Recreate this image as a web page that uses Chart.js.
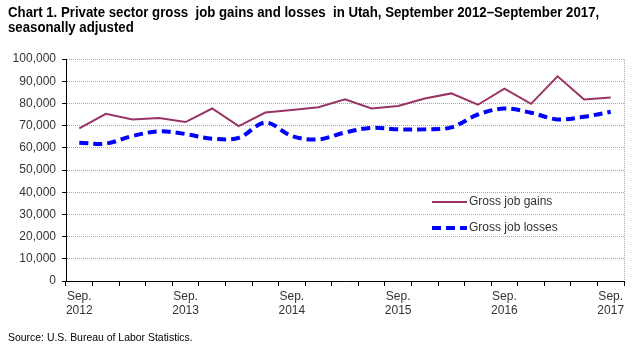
<!DOCTYPE html>
<html lang="en">
<head>
  <meta charset="UTF-8" />
  <title>Utah gross job gains and losses</title>
  <script src="https://cdn.jsdelivr.net/npm/chart.js"></script>
  <style>
    * {
      margin: 0;
      padding: 0;
      box-sizing: border-box;
    }
    body {
      width: 640px;
      height: 348px;
      background: #fff;
      position: relative;
      overflow: hidden;
    }
    .title {
      position: absolute;
      left: 8px;
      top: 5px;
      font-family: 'Liberation Sans', Arial, sans-serif;
      font-weight: bold;
      font-size: 14px;
      line-height: 15px;
      color: #000;
      white-space: nowrap;
      transform: scaleX(0.945);
      transform-origin: left top;
    }
    .source {
      position: absolute;
      left: 8px;
      top: 331px;
      font-family: 'Liberation Sans', Arial, sans-serif;
      font-size: 11px;
      color: #000;
      white-space: nowrap;
      transform: scaleX(0.95);
      transform-origin: left top;
    }
    #wrap {
      position: absolute;
      left: 0;
      top: 0;
      width: 640px;
      height: 348px;
    }
  </style>
</head>
<body>
  <div id="wrap"><canvas id="chart" width="640" height="348"></canvas></div>
  <div class="title">Chart 1. Private sector gross &nbsp;job gains and losses &nbsp;in Utah, September 2012–September 2017,<br />seasonally adjusted</div>
  <div class="source">Source: U.S. Bureau of Labor Statistics.</div>

  <script>
    // quarters, Sep 2012 .. Sep 2017
    const quarters = [
      'Sep. 2012', 'Dec. 2012', 'Mar. 2013', 'Jun. 2013',
      'Sep. 2013', 'Dec. 2013', 'Mar. 2014', 'Jun. 2014',
      'Sep. 2014', 'Dec. 2014', 'Mar. 2015', 'Jun. 2015',
      'Sep. 2015', 'Dec. 2015', 'Mar. 2016', 'Jun. 2016',
      'Sep. 2016', 'Dec. 2016', 'Mar. 2017', 'Jun. 2017',
      'Sep. 2017'
    ];
    const gains = [
      68700, 75300, 72800, 73400, 71600, 77700, 69800, 75900,
      77000, 78300, 81800, 77700, 78800, 82200, 84500, 79400,
      86600, 79800, 92200, 81800, 82700
    ];
    const losses = [
      62300, 61900, 65300, 67400, 66200, 64100, 64500, 71400,
      65300, 63800, 66900, 69000, 68300, 68300, 69200, 75000,
      77700, 75800, 72800, 74000, 76200
    ];
    const yTicks = [0, 10000, 20000, 30000, 40000, 50000, 60000, 70000, 80000, 90000, 100000];

    const labelFont = { family: "'Liberation Sans', Arial, sans-serif", size: 12 };

    // legend drawn inside the plot, plus the grey right border
    const extras = {
      id: 'extras',
      afterDraw(chart) {
        const ctx = chart.ctx;
        const a = chart.chartArea;
        ctx.save();
        ctx.strokeStyle = '#b0b0b0';
        ctx.lineWidth = 1;
        ctx.setLineDash([1, 1]);
        ctx.beginPath();
        ctx.moveTo(a.right + 0.5, a.top);
        ctx.lineTo(a.right + 0.5, a.bottom);
        ctx.stroke();

        const items = chart.data.datasets;
        const x0 = a.left + 366;
        const ys = [a.top + 143, a.top + 169];
        items.forEach((ds, i) => {
          ctx.setLineDash(ds.borderDash || []);
          ctx.strokeStyle = ds.borderColor;
          ctx.lineWidth = ds.borderWidth;
          ctx.beginPath();
          ctx.moveTo(x0, ys[i]);
          ctx.lineTo(x0 + 35, ys[i]);
          ctx.stroke();
          ctx.setLineDash([]);
          ctx.fillStyle = '#333';
          ctx.font = "12px 'Liberation Sans', Arial, sans-serif";
          ctx.textBaseline = 'middle';
          ctx.fillText(ds.label, x0 + 37, ys[i]);
        });
        ctx.restore();
      }
    };

    new Chart(document.getElementById('chart'), {
      type: 'line',
      data: {
        labels: quarters,
        datasets: [
          {
            label: 'Gross job gains',
            data: gains,
            borderColor: '#993366',
            borderWidth: 2,
            pointRadius: 0,
            tension: 0
          },
          {
            label: 'Gross job losses',
            data: losses,
            borderColor: '#0000ff',
            borderWidth: 4,
            borderDash: [9, 5],
            pointRadius: 0,
            tension: 0.35
          }
        ]
      },
      options: {
        responsive: false,
        animation: false,
        layout: { padding: { left: 0, right: 16, top: 59, bottom: 27 } },
        plugins: {
          legend: { display: false },
          tooltip: { enabled: false }
        },
        scales: {
          x: {
            offset: true,
            afterFit: s => { s.height = 40; },
            grid: {
              offset: true,
              drawOnChartArea: false,
              tickLength: 5,
              tickColor: '#000'
            },
            border: { color: '#000', width: 1 },
            ticks: {
              autoSkip: false,
              maxRotation: 0,
              padding: 3,
              color: '#333',
              font: labelFont,
              callback: function (v, i) {
                if (i % 4 !== 0) return '';
                return this.getLabelForValue(v).split(' ');
              }
            }
          },
          y: {
            min: 0,
            max: 100000,
            afterFit: s => { s.width = 66; },
            afterBuildTicks: s => { s.ticks = yTicks.map(v => ({ value: v })); },
            grid: {
              color: '#a8a8a8',
              tickColor: '#000',
              tickLength: 4,
              tickBorderDash: []
            },
            border: { color: '#000', width: 1, dash: [1, 1] },
            ticks: {
              padding: 6,
              color: '#333',
              font: labelFont,
              callback: v => v.toLocaleString('en-US')
            }
          }
        }
      },
      plugins: [extras]
    });
  </script>
</body>
</html>
